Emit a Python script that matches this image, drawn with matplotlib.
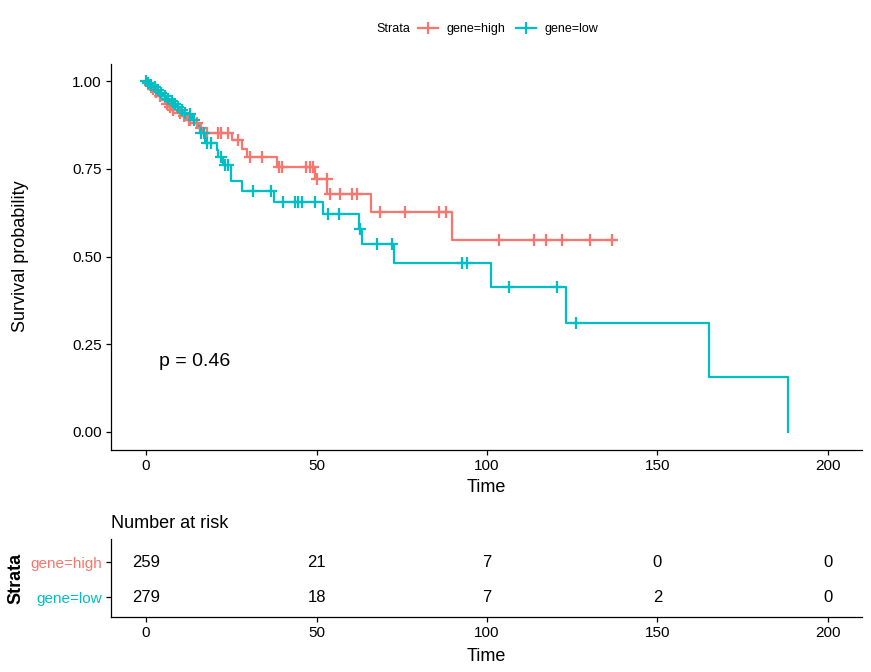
import numpy as np
import matplotlib.pyplot as plt
from matplotlib.lines import Line2D

plt.rcParams['font.family'] = ['Liberation Sans', 'DejaVu Sans']

# strata and colours
groups = ['gene=high', 'gene=low']
colors = ['#F8766D', '#00BFC4']

# gene=high: event times, survival after each event, censor times
high_event_t = [0.5, 1.5, 2.5, 3.5, 4.5, 5.5, 6.5, 7.5, 9.0, 10.5, 12.0, 14.0, 15.5, 16.7,
                25.1, 28.0, 29.5, 38.3, 49.6, 53.2, 65.9, 89.8]
high_surv = [0.988, 0.978, 0.968, 0.958, 0.945, 0.935, 0.927, 0.918, 0.910, 0.900, 0.890, 0.880, 0.866, 0.853,
             0.832, 0.805, 0.783, 0.754, 0.720, 0.678, 0.628, 0.547]
high_cens_t = [1, 2, 3, 4, 6, 7, 8, 10, 11, 12.5, 13, 15, 16, 18, 21, 22, 24, 27, 30.5, 34,
               39, 40, 47, 48, 49, 50, 53, 54, 57, 60.4, 62, 68.6, 76, 86, 88,
               103.5, 113.8, 117.3, 121.9, 130.2, 136.8]
high_end = 137.5

# gene=low
low_event_t = [0.3, 1.0, 2.0, 3.0, 4.0, 5.0, 6.0, 7.0, 8.0, 9.0, 10.0, 11.0, 12.3, 13.5, 14.9, 15.8,
               17.3, 20.7, 21.1, 22.7, 24.9, 28.0, 37.6, 51.8, 62.5, 63.2, 72.6, 101.1, 123.1, 165.0, 188.3]
low_surv = [0.995, 0.990, 0.983, 0.975, 0.967, 0.958, 0.950, 0.942, 0.934, 0.926, 0.918, 0.910, 0.905, 0.890,
            0.871, 0.852, 0.823, 0.803, 0.784, 0.761, 0.715, 0.688, 0.656, 0.621, 0.577, 0.536, 0.482,
            0.414, 0.311, 0.156, 0.0]
low_cens_t = [0, 0.5, 1.5, 2.5, 3.5, 4.5, 5.5, 6.5, 7.5, 8.5, 9.5, 10.5, 11.5, 13, 14, 16, 17, 18, 19,
              22, 23, 24, 31.3, 36.5, 40.3, 43.7, 44.6, 45.7, 49.6, 53.4, 56.7, 62.8, 67.6, 72,
              92.6, 94, 106.5, 120.6, 126]
low_end = 188.3

# number at risk table
risk_times = [0, 50, 100, 150, 200]
risk_high = [259, 21, 7, 0, 0]
risk_low = [279, 18, 7, 2, 0]
p_text = 'p = 0.46'

W, H = 871, 672
fig = plt.figure(figsize=(W / 100, H / 100), dpi=100)
ax = fig.add_axes([111 / W, 1 - 449.5 / H, 751 / W, 386 / H])


def surv_at(events, surv, t):
    idx = np.searchsorted(events, t, side='right')
    vals = np.concatenate([[1.0], surv])
    return vals[idx]


curves = [(high_event_t, high_surv, high_cens_t, high_end),
          (low_event_t, low_surv, low_cens_t, low_end)]
for (ev, sv, ce, end), col in zip(curves, colors):
    t = np.concatenate([[0], ev, [end]])
    s = np.concatenate([[1.0], sv, [sv[-1]]])
    ax.step(t, s, where='post', color=col, lw=1.6, zorder=2)
    ce = np.array(ce)
    ax.plot(ce, surv_at(np.array(ev), np.array(sv), ce), ls='none', marker='+',
            ms=8, mew=1.6, color=col, zorder=3)

ax.text(max(low_end, high_end) / 50, 0.2, p_text, fontsize=14, ha='left', va='center')

ax.set_xlim(-10.3, 210)
ax.set_ylim(-0.05, 1.05)
ax.set_xticks(risk_times)
ax.set_yticks([0, 0.25, 0.5, 0.75, 1.0])
ax.set_yticklabels(['0.00', '0.25', '0.50', '0.75', '1.00'])
for a in ['top', 'right']:
    ax.spines[a].set_visible(False)
for a in ['left', 'bottom']:
    ax.spines[a].set_linewidth(0.9)
ax.tick_params(labelsize=11, length=3.5, width=0.9, pad=3)
ax.set_xlabel('Time', fontsize=13, labelpad=5)
ax.set_ylabel('Survival probability', fontsize=13, labelpad=31)

# legend on top
fig.text(410 / W, 1 - 29 / H, 'Strata', fontsize=9, ha='right', va='center')
handles = [Line2D([0], [0], color=c, lw=1.6, marker='+', ms=8, mew=1.5) for c in colors]
fig.legend(handles, groups, loc='center', bbox_to_anchor=(508 / W, 1 - 29 / H), ncol=2,
           frameon=False, fontsize=9, handlelength=1.6, handletextpad=0.7, columnspacing=0.8)

# risk table
ax2 = fig.add_axes([111 / W, 1 - 617 / H, 751 / W, 78 / H])
rows = [risk_low, risk_high]
for yi, vals in enumerate(rows, start=1):
    for tt, v in zip(risk_times, vals):
        ax2.text(tt, yi, str(v), fontsize=12, ha='center', va='center')
ax2.set_xlim(-10.3, 210)
ax2.set_ylim(0.45, 2.65)
ax2.set_xticks(risk_times)
ax2.set_yticks([1, 2])
ax2.set_yticklabels([groups[1], groups[0]])
for lab, col in zip(ax2.get_yticklabels(), [colors[1], colors[0]]):
    lab.set_color(col)
for a in ['top', 'right']:
    ax2.spines[a].set_visible(False)
for a in ['left', 'bottom']:
    ax2.spines[a].set_linewidth(0.9)
ax2.tick_params(labelsize=11, length=3.5, width=0.9, pad=3)
ax2.set_xlabel('Time', fontsize=13, labelpad=6)
ax2.set_ylabel('Strata', fontsize=13, fontweight='bold', labelpad=4)
ax2.set_title('Number at risk', fontsize=13, loc='left', pad=8, x=0)

fig.savefig('out.png', dpi=100)
